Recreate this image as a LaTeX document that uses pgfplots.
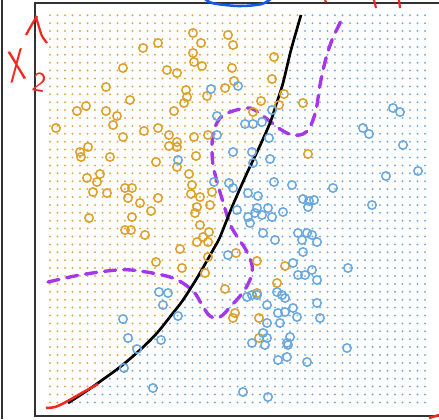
\documentclass[border=0pt]{standalone}
\usepackage{pgfplots}
\pgfplotsset{compat=1.18}
\usetikzlibrary{patterns}
\pgfdeclarepatternformonly{griddots}{\pgfpoint{0.125cm-1.2pt}{0.02cm-1.2pt}}{\pgfpoint{0.125cm+1.2pt}{0.02cm+1.2pt}}{\pgfpoint{0.1875cm}{0.1975cm}}{\pgfpathcircle{\pgfpoint{0.125cm}{0.02cm}}{0.8pt}\pgfusepath{fill}}
\definecolor{orgC}{RGB}{222,160,40}
\definecolor{bluC}{RGB}{105,168,222}
\definecolor{orgD}{RGB}{222,172,85}
\definecolor{bluD}{RGB}{128,174,220}
\definecolor{purp}{RGB}{165,55,235}
\definecolor{redA}{RGB}{240,40,30}
\definecolor{bluE}{RGB}{20,90,230}
\definecolor{frameC}{RGB}{50,50,50}
\begin{document}
\begin{tikzpicture}
\begin{axis}[hide axis, scale only axis, width=10.975cm, height=10.475cm,
  xmin=0, xmax=439, ymin=0, ymax=419, y dir=reverse, clip=true]
\addplot[draw=none, forget plot] coordinates {(0,0) (439,419)};
% dot grid regions (classification regions)
\addplot[draw=none, pattern=griddots, pattern color=orgD]
 coordinates {(46,13) (301,13) (300,17) (291,50) (283,83) (276,105) (270,123) (258,150) (247,173) (232,207) (220,237) (213,250) (197,278) (183,300) (173,313) (157,333) (140,350) (120,367) (98,383) (85,392) (68,403) (62,407) (46,407)} -- cycle;
\addplot[draw=none, pattern=griddots, pattern color=bluD]
 coordinates {(301,13) (429,13) (429,407) (62,407) (68,403) (85,392) (98,383) (120,367) (140,350) (157,333) (173,313) (183,300) (197,278) (213,250) (220,237) (232,207) (247,173) (258,150) (270,123) (276,105) (283,83) (291,50) (300,17)} -- cycle;
% frame
\addplot[frameC, line width=0.9pt] coordinates {(2,0) (2,419)};
\addplot[frameC, line width=0.9pt] coordinates {(440,3) (35,3) (35,416) (440,416)};
% orange observations
\addplot[only marks, mark=o, mark size=3pt, mark options={line width=1.1pt}, color=orgC] coordinates {
(193,33)(201,43)(158,43)(143,48)(193,53)(194,62)(202,66)(123,68)(167,70)(177,73)(106,87)(186,90)(207,96)(187,97)(184,103)(130,100)(86,106)(77,111)(106,111)(174,111)(117,116)(113,125)(56,128)(158,128)(144,131)(123,137)(169,135)(194,137)(208,135)(177,142)(169,146)(177,147)(88,147)(80,152)(81,157)(110,157)(196,156)(156,162)(177,167)(189,174)(87,178)(100,174)(97,182)(125,188)(132,188)(93,192)(107,193)(128,198)(140,203)(158,198)
(192,185)(191,194)(200,197)(212,192)(210,205)(197,207)(195,213)(200,225)(209,232)(203,237)(197,242)(208,242)(180,249)(208,257)(182,268)(205,273)(236,253)(257,261)(285,266)(225,289)(257,293)(277,283)(235,313)(233,318)(259,318)
(89,218)(132,217)(151,211)(125,230)(131,230)(145,235)(156,262)
(228,35)(233,45)(274,57)(232,68)(272,79)(234,81)(225,88)(261,101)(284,94)(279,105)(303,103)(253,112)(308,154)(259,338)
};
% blue observations
\addplot[only marks, mark=o, mark size=3pt, mark options={line width=1.1pt}, color=bluC] coordinates {
(211,89)(217,116)(217,135)(178,160)(214,182)
(238,86)(272,110)(245,124)(253,124)(262,122)(269,138)(233,152)(252,152)(270,159)(253,163)
(393,108)(400,112)(363,128)(369,134)(403,145)(418,171)(386,176)
(274,182)(292,185)(229,183)(233,188)(248,193)(258,196)(333,188)(303,199)(309,201)(314,200)(372,205)(268,208)(257,208)
(308,207)(248,217)(255,213)(262,215)(272,217)(283,212)(250,223)(263,233)(275,240)(298,233)(307,233)(302,240)(312,235)(317,242)(303,252)(228,255)(293,263)(298,275)(305,275)(312,270)(317,280)(252,295)(257,295)(247,297)(277,292)(282,295)(285,298)(267,305)(278,313)(285,312)(293,308)(317,303)(297,317)(267,323)(280,323)(320,318)
(348,268)(263,333)(267,338)(265,345)(290,337)(287,343)(288,345)(252,343)(347,348)(278,360)(287,357)(307,362)(243,392)(268,397)
(159,292)(168,293)(163,305)(123,319)(178,316)(128,338)(161,340)(137,349)(124,368)(153,388)(237,210)
};
% purple dashed boundary
\addplot[purp, line width=2.4pt, smooth, tension=0.55, dash pattern=on 0.28cm off 0.2cm, line cap=round] coordinates {
(48,282) (80,275) (117,270) (140,271) (173,278) (193,291) (202,305) (210,316) (220,317) (232,305) (244,291) (251,277) (252,265) (246,250) (238,238) (230,224) (223,202) (218,185) (213,165) (212,145) (214,130) (221,117) (233,111) (250,108) (263,116) (280,129) (292,135) (303,134) (310,127) (316,110) (320,85) (325,62) (332,40) (343,17)};
% black boundary
\addplot[black, line width=1.9pt, smooth, tension=0.5] coordinates {
(301,15) (291,50) (283,83) (276,105) (270,123) (258,150) (247,173) (232,207) (220,237) (213,250) (197,278) (183,300) (173,313) (157,333) (140,350) (120,367) (98,383) (85,392) (68,403)};
% red annotations
\addplot[redA, line width=1.8pt, smooth] coordinates {(46,408) (55,407) (64,403) (80,394) (98,384)};
\addplot[redA, line width=1.6pt, smooth] coordinates {(26,35) (31,26) (37,16)};
\addplot[redA, line width=1.6pt, smooth] coordinates {(36,17) (39,27) (42,36) (47,43)};
\addplot[redA, line width=1.5pt] coordinates {(374,0) (376,8)};
\addplot[redA, line width=1.5pt] coordinates {(399,0) (400,8)};
\addplot[redA, line width=1.5pt] coordinates {(325,0) (326,2)};
\addplot[redA, line width=1.8pt] coordinates {(429,418) (439,415)};
\addplot[bluE, line width=1.8pt, smooth] coordinates {(203,-3) (212,3) (238,6) (262,4) (273,-3)};
\node[text=redA, font=\sffamily\fontsize{32}{32}\selectfont, xscale=0.6, rotate=10] at (axis cs:17,66) {X};
\node[text=redA, font=\sffamily\fontsize{20}{20}\selectfont, rotate=-10] at (axis cs:40,82) {2};
\end{axis}
\end{tikzpicture}
\end{document}
